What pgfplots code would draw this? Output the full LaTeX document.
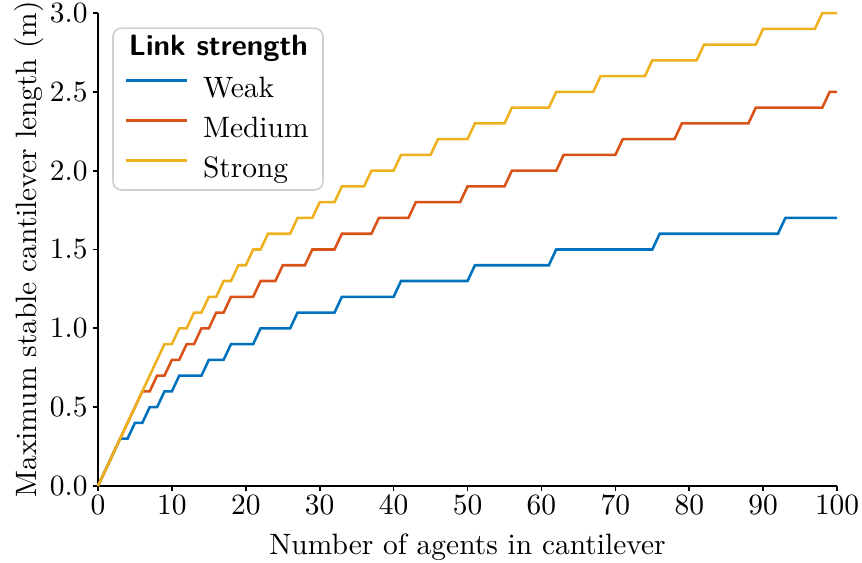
\documentclass[border=0pt]{standalone}
\usepackage{fontspec}
\usepackage{pgfplots}
\pgfplotsset{compat=1.18}
\definecolor{cWeak}{HTML}{0072BD}
\definecolor{cMed}{HTML}{D95319}
\definecolor{cStr}{HTML}{EDB120}

\begin{document}
\begin{tikzpicture}[font=\fontsize{10.4}{12.5}\selectfont]
\begin{axis}[
  name=ax,
  scale only axis,
  width=261pt, height=167pt,
  xmin=0, xmax=100, ymin=0, ymax=3,
  axis x line*=bottom, axis y line*=left,
  axis line style={line width=0.6pt},
  xtick={0,10,...,100},
  ytick={0,0.5,1,1.5,2,2.5,3},
  tick align=outside,
  major tick length=1.8pt,
  tick style={line width=0.6pt, black},
  /pgf/number format/assume math mode=true,
  xticklabel style={inner sep=1.1pt},
  yticklabel style={inner sep=1.7pt, /pgf/number format/.cd, fixed, fixed zerofill, precision=1},
  xlabel={Number of agents in cantilever},
  ylabel={Maximum stable cantilever length (m)},
  every axis x label/.style={at={(axis description cs:0.5,-0.146)},anchor=base},
  every axis y label/.style={at={(axis description cs:-0.0831,0.5)},rotate=90,anchor=base},
  legend cell align=left,
  legend image code/.code={\draw[#1] (0pt,3.5pt) -- (21.5pt,3.5pt);},
  legend style={at={(rel axis cs:0.0352,0.867)}, anchor=north west, draw=none, fill=none,
    inner sep=0pt, row sep=4.1pt, column sep=5.3pt,
    nodes={inner sep=0pt, text height=7.5pt, text depth=2.5pt}},
  every axis plot/.append style={line width=0.9pt},
  clip=false,
]
% Weak links
\addplot[cWeak] coordinates {
(0,0) (3,0.3) (4,0.3) (5,0.4) (6,0.4) (7,0.5) (8,0.5) (9,0.6) (10,0.6)
(11,0.7) (14,0.7) (15,0.8) (17,0.8) (18,0.9) (21,0.9) (22,1.0) (26,1.0)
(27,1.1) (32,1.1) (33,1.2) (40,1.2) (41,1.3) (50,1.3) (51,1.4) (61,1.4)
(62,1.5) (75,1.5) (76,1.6) (92,1.6) (93,1.7) (100,1.7)};
\addlegendentry{Weak}
% Medium links
\addplot[cMed] coordinates {
(0,0) (6,0.6) (7,0.6) (8,0.7) (9,0.7) (10,0.8) (11,0.8) (12,0.9) (13,0.9)
(14,1.0) (15,1.0) (16,1.1) (17,1.1) (18,1.2) (21,1.2) (22,1.3) (24,1.3)
(25,1.4) (28,1.4) (29,1.5) (32,1.5) (33,1.6) (37,1.6) (38,1.7) (42,1.7)
(43,1.8) (49,1.8) (50,1.9) (55,1.9) (56,2.0) (62,2.0) (63,2.1) (70,2.1)
(71,2.2) (78,2.2) (79,2.3) (88,2.3) (89,2.4) (98,2.4) (99,2.5) (100,2.5)};
\addlegendentry{Medium}
% Strong links
\addplot[cStr] coordinates {
(0,0) (9,0.9) (10,0.9) (11,1.0) (12,1.0) (13,1.1) (14,1.1) (15,1.2) (16,1.2)
(17,1.3) (18,1.3) (19,1.4) (20,1.4) (21,1.5) (22,1.5) (23,1.6) (26,1.6)
(27,1.7) (29,1.7) (30,1.8) (32,1.8) (33,1.9) (36,1.9) (37,2.0) (40,2.0)
(41,2.1) (45,2.1) (46,2.2) (50,2.2) (51,2.3) (55,2.3) (56,2.4) (61,2.4)
(62,2.5) (67,2.5) (68,2.6) (74,2.6) (75,2.7) (81,2.7) (82,2.8) (89,2.8)
(90,2.9) (97,2.9) (98,3.0) (100,3.0)};
\addlegendentry{Strong}
% legend frame and title
\draw[draw=black!18, fill=white, rounded corners=3pt, line width=0.6pt]
  (rel axis cs:0.0203,0.626) rectangle (rel axis cs:0.3045,0.968);
\node[anchor=base, font=\fontsize{10.4}{12.5}\selectfont\sffamily\bfseries] at (rel axis cs:0.163,0.911) {Link strength};
\end{axis}
\pgfresetboundingbox
\path ([shift={(-34.6pt,-26.9pt)}]ax.south west) rectangle ([shift={(8.8pt,4.6pt)}]ax.north east);
\end{tikzpicture}
\end{document}
